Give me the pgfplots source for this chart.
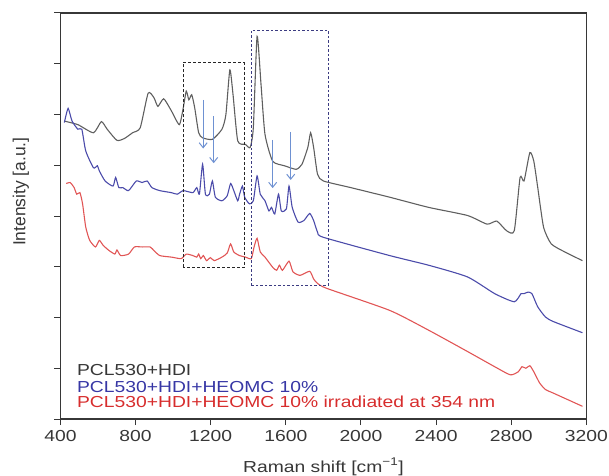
\documentclass[border=0pt]{standalone}
\usepackage{fontspec}
\setmainfont{Liberation Sans}[FakeStretch=1.21]
\newfontfamily\ylabfont{Liberation Sans}
\usepackage{pgfplots}
\pgfplotsset{compat=1.18}
\usetikzlibrary{arrows.meta}
\definecolor{cgray}{RGB}{95,95,95}
\definecolor{cblue}{RGB}{75,75,170}
\definecolor{cred}{RGB}{225,85,85}
\definecolor{carrow}{RGB}{110,145,210}
\definecolor{tgray}{RGB}{55,55,55}
\definecolor{tblue}{RGB}{55,55,165}
\definecolor{tred}{RGB}{215,45,45}
\definecolor{boxblue}{RGB}{60,60,130}
\begin{document}
\begin{tikzpicture}
\useasboundingbox (-60.4bp,-57bp) rectangle (548.6bp,419bp);
\begin{axis}[
  scale only axis, width=526bp, height=406bp,
  xmin=400, xmax=3200, ymin=0, ymax=8,
  xtick={400,800,...,3200}, ytick={0,1,...,8}, yticklabels={},
  tick align=outside, tick pos=left, major tick length=6bp,
  every tick/.style={tgray, line width=1pt},
  axis line style={tgray, line width=1.5pt},
  /pgf/number format/assume math mode=true,
  /pgf/number format/1000 sep={},
  xticklabel style={font=\fontsize{16}{18}\selectfont, text=tgray, yshift=-2bp},
  xlabel={Raman shift [cm\textsuperscript{−1}]},
  xlabel style={font=\fontsize{16}{18}\selectfont, text=tgray, at={(axis description cs:0.5,-0.118)}, anchor=center},
  ylabel={Intensity [a.u.]},
  ylabel style={font=\ylabfont\fontsize{17.5}{20}\selectfont, text=tgray, at={(axis description cs:-0.075,0.56)}, anchor=center},
  clip=false,
]
% PCL530+HDI
\addplot[cgray, line width=1.1pt, smooth, tension=0.35] coordinates {
(421,5.87)(493,5.80)(576,5.64)(618,5.86)(649,5.71)(701,5.49)(742,5.53)(784,5.64)(825,5.74)
(867,6.42)(898,6.33)(919,6.16)(950,6.31)(991,6.07)(1033,5.80)(1054,6.13)(1070,6.46)(1084,6.29)
(1099,6.39)(1115,6.13)(1136,5.64)(1157,5.54)(1209,5.51)(1260,5.71)(1281,6.00)(1302,6.88)(1319,6.39)
(1344,5.48)(1385,5.41)(1410,5.35)(1427,5.74)(1447,7.54)(1468,6.59)(1489,5.61)(1530,5.08)(1593,4.99)
(1655,4.92)(1686,5.02)(1717,5.35)(1732,5.64)(1748,5.35)(1769,4.82)(1800,4.69)(1945,4.56)(2153,4.37)
(2360,4.17)(2567,4.01)(2671,3.84)(2723,3.90)(2775,3.71)(2816,3.71)(2847,4.76)(2868,4.69)(2899,5.25)
(2920,5.08)(2941,4.56)(2972,3.78)(3013,3.45)(3086,3.29)(3179,3.12)
};
% PCL530+HDI+HEOMC 10%
\addplot[cblue, line width=1.1pt, smooth, tension=0.35] coordinates {
(421,5.84)(441,6.12)(462,5.87)(493,5.71)(514,5.71)(535,5.28)(576,4.95)(597,4.99)(607,4.89)(638,4.69)
(680,4.59)(694,4.76)(711,4.56)(732,4.56)(763,4.50)(804,4.69)(835,4.66)(862,4.69)(887,4.56)(929,4.50)
(991,4.46)(1022,4.43)(1054,4.50)(1105,4.46)(1126,4.56)(1140,4.43)(1157,5.02)(1172,4.43)(1193,4.43)
(1209,4.69)(1225,4.37)(1260,4.30)(1288,4.40)(1306,4.64)(1323,4.50)(1344,4.30)(1354,4.43)(1369,4.59)
(1381,4.37)(1406,4.24)(1427,4.30)(1447,4.79)(1464,4.43)(1489,4.30)(1510,4.10)(1524,4.17)(1541,4.04)
(1561,4.43)(1576,4.10)(1603,4.14)(1617,4.59)(1634,4.17)(1665,3.88)(1696,3.91)(1727,4.05)(1748,3.91)
(1769,3.68)(1800,3.58)(2153,3.22)(2360,3.03)(2567,2.80)(2712,2.47)(2816,2.31)(2852,2.47)(2868,2.47)
(2889,2.50)(2910,2.47)(2941,2.21)(2982,2.01)(3024,1.92)(3179,1.70)
};
% irradiated
\addplot[cred, line width=1.1pt, smooth, tension=0.35] coordinates {
(431,4.64)(452,4.66)(473,4.56)(487,4.43)(504,4.46)(518,4.24)(535,3.78)(556,3.52)(587,3.39)(607,3.52)
(628,3.42)(659,3.32)(690,3.25)(701,3.33)(721,3.22)(763,3.25)(794,3.39)(835,3.39)(877,3.39)(898,3.32)
(929,3.22)(991,3.19)(1043,3.16)(1070,3.25)(1105,3.22)(1126,3.19)(1136,3.25)(1147,3.16)(1161,3.22)
(1178,3.12)(1198,3.18)(1219,3.12)(1260,3.19)(1288,3.27)(1306,3.45)(1323,3.29)(1354,3.22)(1385,3.19)
(1416,3.16)(1431,3.39)(1447,3.56)(1464,3.29)(1489,3.19)(1530,2.99)(1551,2.93)(1566,3.03)(1582,2.93)
(1617,3.11)(1638,2.90)(1676,2.83)(1727,2.91)(1748,2.76)(1769,2.67)(1821,2.57)(2153,2.14)(2360,1.75)
(2567,1.33)(2712,1.03)(2795,0.87)(2837,0.93)(2857,1.03)(2878,1.00)(2899,1.05)(2920,0.93)(2951,0.71)
(2982,0.58)(3024,0.51)(3179,0.25)
};
% boxes
\draw[black!85, line width=1.2pt, dash pattern=on 3bp off 2bp] (axis cs:1055,2.99) rectangle (axis cs:1378,7.03);
\draw[boxblue, line width=0.9pt, dash pattern=on 2.5bp off 2bp] (axis cs:1415,2.64) rectangle (axis cs:1826,7.66);
% arrows
\begin{scope}[carrow, line width=1pt, -{Straight Barb[length=5bp,width=8bp]}]
\draw (axis cs:1160,6.29) -- (axis cs:1160,5.33);
\draw (axis cs:1216,5.97) -- (axis cs:1216,5.04);
\draw (axis cs:1530,5.50) -- (axis cs:1530,4.55);
\draw (axis cs:1626,5.66) -- (axis cs:1626,4.71);
\end{scope}
% legend
\begin{scope}[every node/.style={anchor=base west, inner sep=0pt, text height=0.74em, text depth=0pt, font=\fontsize{16}{18}\selectfont}]
\node[text=tgray] at (axis cs:488,0.867) {PCL530+HDI};
\node[text=tblue] at (axis cs:488,0.526) {PCL530+HDI+HEOMC 10\%};
\node[text=tred] at (axis cs:488,0.231) {PCL530+HDI+HEOMC 10\% irradiated at 354 nm};
\end{scope}
\end{axis}
\end{tikzpicture}
\end{document}
